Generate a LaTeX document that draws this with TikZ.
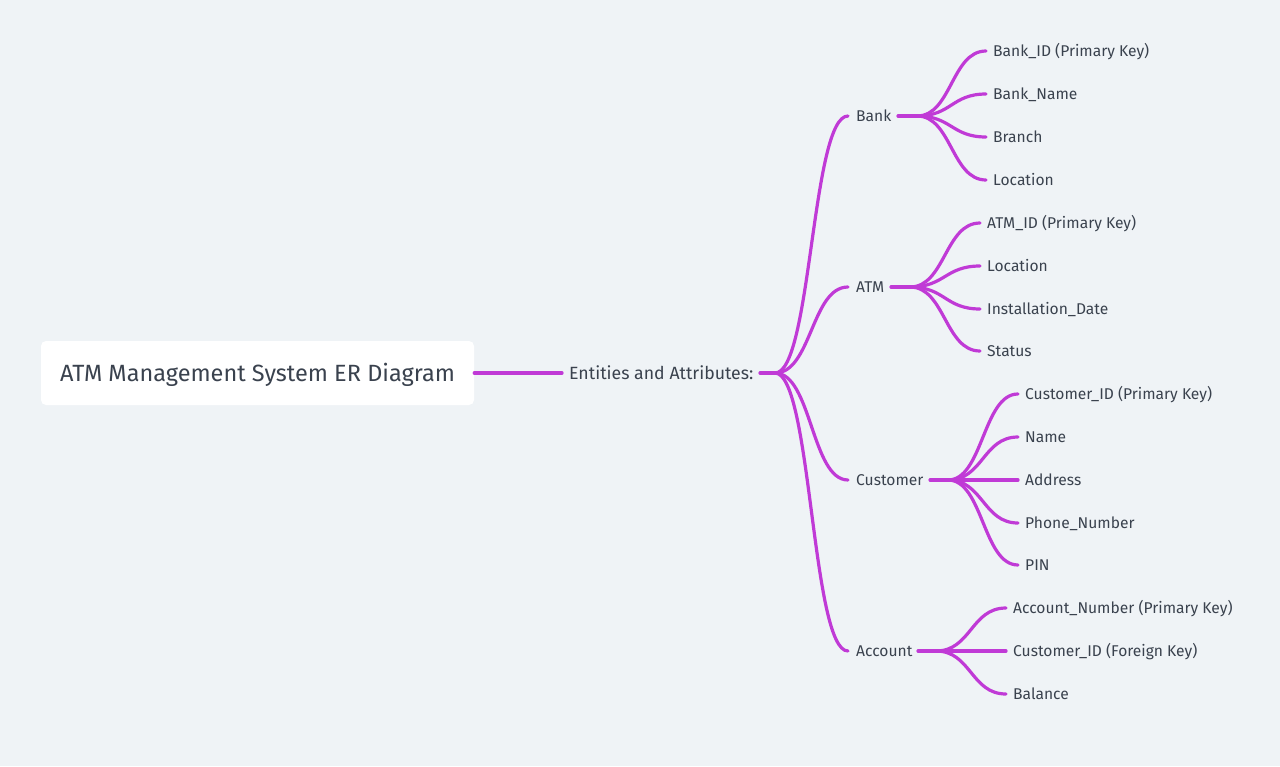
\documentclass[tikz,border=0pt]{standalone}
\usepackage{fontspec}
\setmainfont{Fira Sans}
\usetikzlibrary{calc}
\definecolor{bg}{RGB}{239,243,246}
\definecolor{ink}{RGB}{58,66,78}
\definecolor{lnk}{RGB}{192,58,214}
\tikzset{
  link/.style={draw=lnk, line width=3.2pt, line cap=round},
  lbl/.style={anchor=west, inner sep=0pt, text=ink, font=\fontsize{15.6}{18}\selectfont, text height=10.8pt, text depth=0pt, yshift=-0.5pt},
  ent/.style={lbl},
  hub/.style={anchor=west, inner sep=0pt, text=ink, font=\fontsize{17.7}{21}\selectfont, text height=12.2pt, text depth=0pt, yshift=-0.5pt},
  titlebox/.style={fill=white, rounded corners=5pt, minimum width=433pt, minimum height=64pt, inner sep=0pt, text=ink, font=\fontsize{23.5}{28}\selectfont, text height=16.2pt, text depth=0pt}
}
\begin{document}
\begin{tikzpicture}[x=1pt,y=-1pt]
\fill[bg] (0,0) rectangle (1280,766);
\useasboundingbox (0,0) rectangle (1280,766);

% title and hub
\node[titlebox] (title) at (257.5,373) {ATM Management System ER Diagram};
\node[hub] (hub) at (569,373) {Entities and Attributes:};
\coordinate (hubin) at (562,373);
\draw[link] (title.east) -- (hubin);
\coordinate (hubout) at (760,373);
\coordinate (hj) at (775,373);
\draw[link] (hubout) -- (hj);

% entities
\node[ent] (bank) at (856,116) {Bank};
\node[ent] (atm) at (856,287) {ATM};
\node[ent] (cust) at (856,480) {Customer};
\node[ent] (acc) at (856,651) {Account};

\foreach \e/\y in {bank/116, atm/287, cust/480, acc/651}{
  \coordinate (\e in) at (848,\y);
  \draw[link] (hj) .. controls +(36.5,0) and +(-36.5,0) .. (\e in);
}

% Bank attributes
\coordinate (bankout) at (898,116);
\coordinate (bankj) at (917,116);
\draw[link] (bankout) -- (bankj);
\foreach \n/\y/\t in {b1/51/{Bank\_ID (Primary Key)}, b2/94/{Bank\_Name}, b3/137/{Branch}, b4/180/{Location}}{
  \node[lbl] (\n) at (993,\y) {\t};
  \coordinate (\n in) at (986,\y);
  \draw[link] (bankj) .. controls +(34.5,0) and +(-34.5,0) .. (\n in);
}

% ATM attributes
\coordinate (atmout) at (891,287);
\coordinate (atmj) at (910,287);
\draw[link] (atmout) -- (atmj);
\foreach \n/\y/\t in {a1/223/{ATM\_ID (Primary Key)}, a2/266/{Location}, a3/309/{Installation\_Date}, a4/351/{Status}}{
  \node[lbl] (\n) at (987,\y) {\t};
  \coordinate (\n in) at (980,\y);
  \draw[link] (atmj) .. controls +(35,0) and +(-35,0) .. (\n in);
}

% Customer attributes
\coordinate (custout) at (930,480);
\coordinate (custj) at (948,480);
\draw[link] (custout) -- (custj);
\foreach \n/\y/\t in {c1/394/{Customer\_ID (Primary Key)}, c2/437/{Name}, c3/480/{Address}, c4/523/{Phone\_Number}, c5/565/{PIN}}{
  \node[lbl] (\n) at (1025,\y) {\t};
  \coordinate (\n in) at (1018,\y);
  \draw[link] (custj) .. controls +(35,0) and +(-35,0) .. (\n in);
}

% Account attributes
\coordinate (accout) at (918,651);
\coordinate (accj) at (936,651);
\draw[link] (accout) -- (accj);
\foreach \n/\y/\t in {d1/608/{Account\_Number (Primary Key)}, d2/651/{Customer\_ID (Foreign Key)}, d3/694/{Balance}}{
  \node[lbl] (\n) at (1013,\y) {\t};
  \coordinate (\n in) at (1006,\y);
  \draw[link] (accj) .. controls +(35,0) and +(-35,0) .. (\n in);
}
\end{tikzpicture}
\end{document}
